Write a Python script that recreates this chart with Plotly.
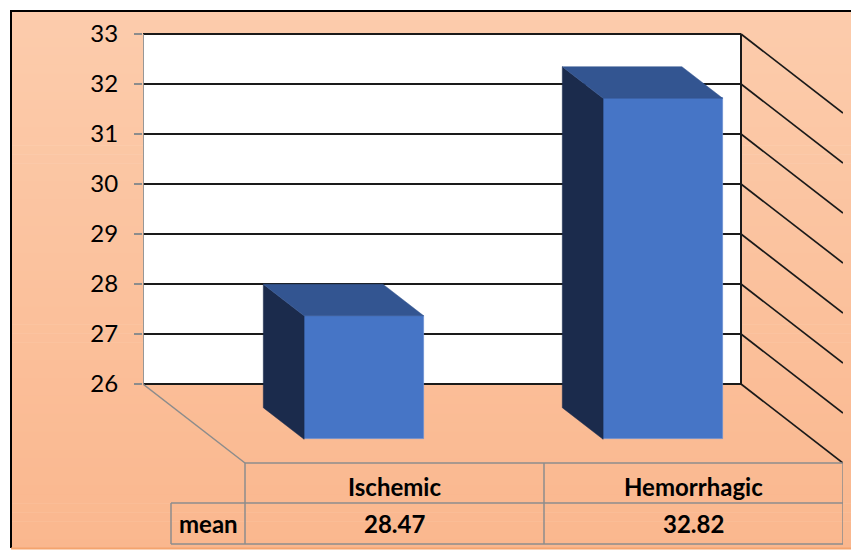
import plotly.graph_objects as go

# ---------------- data ----------------
categories = ["Ischemic", "Hemorrhagic"]
mean_values = [28.47, 32.82]
row_label = "mean"
tick_values = [26, 27, 28, 29, 30, 31, 32, 33]

# ---------------- geometry / style ----------------
W, H = 851, 553
L, R, T, B = 143, 843, 33, 547          # plot-area pixel box
SLOT = 299.0                            # px per category slot
UNIT = 50.0                             # px per value unit
V_MIN, V_MAX = tick_values[0], tick_values[-1]
WALL_TOP_PX = 34

x_lo = -0.5
x_hi = -0.5 + (R - L) / SLOT
y_hi = V_MAX - (T - WALL_TOP_PX) / UNIT
y_lo = V_MAX - (B - WALL_TOP_PX) / UNIT

DX = 102.0 / SLOT      # oblique depth shift (slots) for full depth
DY = -79.0 / UNIT      # oblique depth shift (value units) for full depth
D_BACK, D_FRONT = 0.3, 0.7
HALF = 0.2

FONT = "Lato, 'Open Sans', Arial, sans-serif"
GRID = "#1a1a1a"
GRAY = "#8c8c8c"
FRONT_C = "#4675C6"
SIDE_C = "#1B2B4C"
TOP_C = "#335591"


def proj(s, v, d):
    return s + DX * d, v + DY * d


def ppx(px):
    return (px - L) / (R - L)


def ppy(py):
    return (B - py) / (B - T)


fig = go.Figure()
shapes = []
annotations = []

# background gradient (paper)
top_rgb = (252, 204, 172)
bot_rgb = (250, 183, 142)
n = 60
y0px, y1px = 11, 548
for k in range(n):
    a = y0px + (y1px - y0px) * k / n
    b = y0px + (y1px - y0px) * (k + 1) / n + 0.6
    t = (k + 0.5) / n
    c = tuple(round(top_rgb[j] + (bot_rgb[j] - top_rgb[j]) * t) for j in range(3))
    shapes.append(dict(type="rect", xref="paper", yref="paper", layer="below",
                       x0=ppx(11), x1=ppx(W + 5), y0=ppy(a), y1=ppy(b),
                       fillcolor="rgb(%d,%d,%d)" % c, line=dict(width=0)))
# frame lines
shapes.append(dict(type="line", xref="paper", yref="paper", layer="below",
                   x0=ppx(11), x1=ppx(11), y0=ppy(10), y1=ppy(548),
                   line=dict(color="black", width=2)))
shapes.append(dict(type="line", xref="paper", yref="paper", layer="below",
                   x0=ppx(10), x1=ppx(W + 5), y0=ppy(11), y1=ppy(11),
                   line=dict(color="black", width=2)))
shapes.append(dict(type="line", xref="paper", yref="paper", layer="below",
                   x0=ppx(11), x1=ppx(W + 5), y0=ppy(548.5), y1=ppy(548.5),
                   line=dict(color="#F4A46E", width=2)))

# back wall
wall_l, wall_r = -0.5, len(categories) - 0.5
shapes.append(dict(type="rect", xref="x", yref="y", layer="below",
                   x0=wall_l, x1=wall_r, y0=V_MIN, y1=V_MAX,
                   fillcolor="white", line=dict(width=0)))
for v in tick_values:
    shapes.append(dict(type="line", xref="x", yref="y", layer="below",
                       x0=wall_l, x1=wall_r, y0=v, y1=v,
                       line=dict(color=GRID, width=2)))
    ex, ey = proj(wall_r, v, 1.0)
    shapes.append(dict(type="line", xref="x", yref="y", layer="below",
                       x0=wall_r, x1=ex, y0=v, y1=ey,
                       line=dict(color=GRID, width=1.7)))
# wall right edge
shapes.append(dict(type="line", xref="x", yref="y", layer="below",
                   x0=wall_r, x1=wall_r, y0=V_MIN, y1=V_MAX,
                   line=dict(color=GRID, width=2)))
# left axis line
shapes.append(dict(type="line", xref="x", yref="y", layer="below",
                   x0=wall_l, x1=wall_l, y0=V_MIN, y1=V_MAX,
                   line=dict(color=GRAY, width=1.8)))
# floor left edge
fx, fy = proj(wall_l, V_MIN, 1.0)
shapes.append(dict(type="line", xref="x", yref="y", layer="below",
                   x0=wall_l, x1=fx, y0=V_MIN, y1=fy,
                   line=dict(color=GRAY, width=1.5)))

# ---------------- bars ----------------
xs = list(range(len(categories)))
front_x = [proj(i, 0, D_FRONT)[0] for i in xs]
front_base = proj(0, V_MIN, D_FRONT)[1]
fig.add_trace(go.Bar(
    x=front_x, y=[v - V_MIN for v in mean_values], base=front_base,
    width=2 * HALF, marker=dict(color=FRONT_C, line=dict(color="#6C8FD0", width=0.8)),
    hoverinfo="skip", showlegend=False))

for i, v in zip(xs, mean_values):
    pts = [proj(i - HALF, V_MIN, D_BACK), proj(i - HALF, v, D_BACK),
           proj(i - HALF, v, D_FRONT), proj(i - HALF, V_MIN, D_FRONT)]
    fig.add_trace(go.Scatter(
        x=[p[0] for p in pts] + [pts[0][0]], y=[p[1] for p in pts] + [pts[0][1]],
        mode="lines", fill="toself", fillcolor=SIDE_C,
        line=dict(color=SIDE_C, width=0.5), hoverinfo="skip", showlegend=False))
    pts = [proj(i - HALF, v, D_BACK), proj(i + HALF, v, D_BACK),
           proj(i + HALF, v, D_FRONT), proj(i - HALF, v, D_FRONT)]
    fig.add_trace(go.Scatter(
        x=[p[0] for p in pts] + [pts[0][0]], y=[p[1] for p in pts] + [pts[0][1]],
        mode="lines", fill="toself", fillcolor=TOP_C,
        line=dict(color=TOP_C, width=0.5), hoverinfo="skip", showlegend=False))

# ---------------- data table ----------------
tab_top = proj(0, V_MIN, 1.0)[1]
row_h = 40.0 / UNIT
row2_h = 41.0 / UNIT
tab_mid = tab_top - row_h
tab_bot = tab_mid - row2_h
col_edges = [proj(e, 0, 1.0)[0] for e in [wall_l + k for k in range(len(categories) + 1)]]
label_left = -0.5 + (171 - L) / SLOT
TL = dict(color=GRAY, width=1.5)
shapes.append(dict(type="line", xref="x", yref="y", x0=col_edges[0], x1=col_edges[-1],
                   y0=tab_top, y1=tab_top, line=TL))
shapes.append(dict(type="line", xref="x", yref="y", x0=label_left, x1=col_edges[-1],
                   y0=tab_mid, y1=tab_mid, line=TL))
shapes.append(dict(type="line", xref="x", yref="y", x0=label_left, x1=col_edges[-1],
                   y0=tab_bot, y1=tab_bot, line=TL))
for cx in col_edges:
    shapes.append(dict(type="line", xref="x", yref="y", x0=cx, x1=cx,
                       y0=tab_top, y1=tab_bot, line=TL))
shapes.append(dict(type="line", xref="x", yref="y", x0=label_left, x1=label_left,
                   y0=tab_mid, y1=tab_bot, line=TL))

TF = dict(family=FONT, size=24, color="black")
for i, (c, v) in enumerate(zip(categories, mean_values)):
    cx = proj(i, 0, 1.0)[0]
    annotations.append(dict(x=cx, y=(tab_top + tab_mid) / 2 - 3.0 / UNIT, xref="x", yref="y",
                            text="<b>%s</b>" % c, showarrow=False, font=TF))
    annotations.append(dict(x=cx, y=(tab_mid + tab_bot) / 2, xref="x", yref="y",
                            text="<b>%.2f</b>" % v, showarrow=False, font=TF))
annotations.append(dict(x=(label_left + col_edges[0]) / 2, y=(tab_mid + tab_bot) / 2,
                        xref="x", yref="y", text="<b>%s</b>" % row_label,
                        showarrow=False, font=TF))

fig.update_layout(
    width=W, height=H, autosize=False,
    margin=dict(l=L, r=W - R, t=T, b=H - B, pad=0),
    paper_bgcolor="white", plot_bgcolor="rgba(0,0,0,0)",
    showlegend=False, bargap=0,
    shapes=shapes, annotations=annotations,
    xaxis=dict(range=[x_lo, x_hi], visible=False, fixedrange=True),
    yaxis=dict(range=[y_lo, y_hi], tickvals=tick_values, ticks="outside", ticklen=8,
               tickwidth=1.5, tickcolor=GRAY, showgrid=False, zeroline=False,
               showline=False, ticklabelstandoff=11,
               tickfont=dict(family=FONT, size=24, color="black"), fixedrange=True),
)

fig.write_html("out.html")
